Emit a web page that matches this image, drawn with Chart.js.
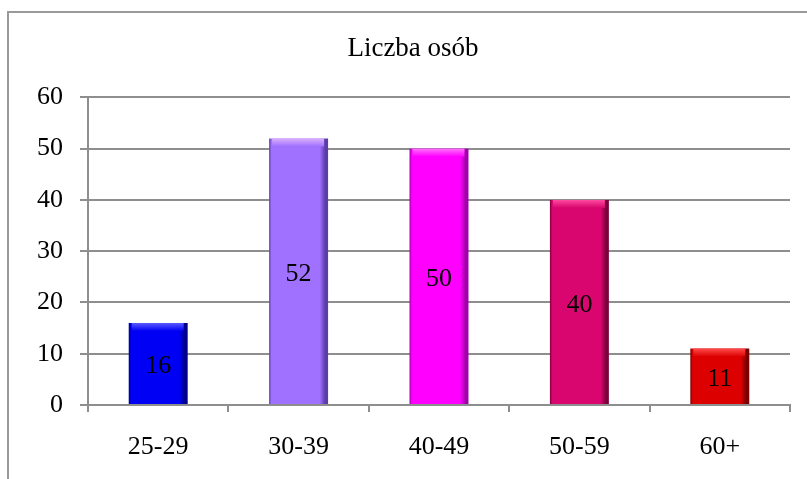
<!DOCTYPE html>
<html lang="pl">
<head>
    <meta charset="UTF-8">
    <title>Liczba osób</title>
    <script src="https://cdn.jsdelivr.net/npm/chart.js"></script>
    <style>
        body {
            margin: 0;
            background: #ffffff;
            overflow: hidden;
        }
        #frame {
            position: absolute;
            left: 7px;
            top: 11px;
            width: 840px;
            height: 520px;
            border: 2px solid #9a9a9a;
        }
        #chart {
            position: absolute;
            left: 0;
            top: 0;
        }
    </style>
</head>
<body>
    <div id="frame"></div>
    <canvas id="chart" width="807" height="479"></canvas>
    <script>
        // data
        const categories = ['25-29', '30-39', '40-49', '50-59', '60+'];
        const people = [16, 52, 50, 40, 11];
        const yTicks = [0, 10, 20, 30, 40, 50, 60];

        // bar colours: main, lighter top band, dark edge
        const mainColors = ['#0000f4', '#a070ff', '#ff00ff', '#d8066e', '#dc0000'];
        const topColors = ['#5a5aff', '#dcb0ff', '#ff70ff', '#ff4aa0', '#ff4a4a'];
        const edgeColors = ['#00008c', '#5c3ca8', '#a000a8', '#7c003c', '#7a0000'];

        const serif = '"Liberation Serif", "Times New Roman", serif';
        const BAR_PCT = 0.42;

        function barFill(ctx) {
            const chart = ctx.chart;
            const i = ctx.dataIndex;
            const x = chart.scales.x;
            if (!x || !chart.chartArea) return mainColors[i];
            const cx = x.getPixelForValue(i);
            const half = (chart.chartArea.width / categories.length) * BAR_PCT / 2;
            const g = chart.ctx.createLinearGradient(cx - half, 0, cx + half, 0);
            g.addColorStop(0, edgeColors[i]);
            g.addColorStop(0.04, mainColors[i]);
            g.addColorStop(0.86, mainColors[i]);
            g.addColorStop(0.95, edgeColors[i]);
            g.addColorStop(1, edgeColors[i]);
            return g;
        }

        // top highlight and value labels, placed from the bar elements
        const barDecor = {
            id: 'barDecor',
            afterDatasetsDraw(chart) {
                const c = chart.ctx;
                const meta = chart.getDatasetMeta(0);
                meta.data.forEach((bar, i) => {
                    const left = bar.x - bar.width / 2;
                    const top = bar.y;
                    const g = c.createLinearGradient(0, top, 0, top + 8);
                    g.addColorStop(0, topColors[i]);
                    g.addColorStop(1, mainColors[i]);
                    c.save();
                    c.fillStyle = g;
                    c.fillRect(left + 3, top, bar.width - 7, 8);
                    c.fillStyle = '#000000';
                    c.font = '26px ' + serif;
                    c.textAlign = 'center';
                    c.textBaseline = 'middle';
                    c.fillText(String(people[i]), bar.x, (bar.y + bar.base) / 2 + 3);
                    c.restore();
                });
            }
        };

        new Chart(document.getElementById('chart'), {
            type: 'bar',
            data: {
                labels: categories,
                datasets: [{
                    label: 'Liczba osób',
                    data: people,
                    backgroundColor: barFill,
                    borderWidth: 0,
                    barPercentage: BAR_PCT,
                    categoryPercentage: 1
                }]
            },
            options: {
                responsive: false,
                animation: false,
                layout: {
                    padding: { left: 36, right: 17, top: 0, bottom: 0 }
                },
                plugins: {
                    legend: { display: false },
                    tooltip: { enabled: false },
                    title: {
                        display: true,
                        text: 'Liczba osób',
                        color: '#000000',
                        font: { family: serif, size: 27, weight: 'normal' },
                        padding: { top: 33, bottom: 32 }
                    }
                },
                scales: {
                    x: {
                        afterFit: s => { s.height = 74; },
                        grid: {
                            display: true,
                            drawOnChartArea: false,
                            drawTicks: true,
                            tickLength: 7,
                            color: '#8e8e8e',
                            lineWidth: 2
                        },
                        // axis line drawn over the bars' feet
                        border: { display: true, color: '#8e8e8e', width: 2, z: 1 },
                        ticks: {
                            color: '#000000',
                            padding: 20,
                            font: { family: serif, size: 26 }
                        }
                    },
                    y: {
                        min: 0,
                        max: 60,
                        afterFit: s => { s.width = 52; },
                        afterBuildTicks: s => { s.ticks = yTicks.map(v => ({ value: v })); },
                        grid: {
                            color: '#8e8e8e',
                            lineWidth: 2,
                            tickLength: 8
                        },
                        border: { display: true, color: '#8e8e8e', width: 2 },
                        ticks: {
                            color: '#000000',
                            padding: 17,
                            font: { family: serif, size: 26 }
                        }
                    }
                }
            },
            plugins: [barDecor]
        });
    </script>
</body>
</html>
